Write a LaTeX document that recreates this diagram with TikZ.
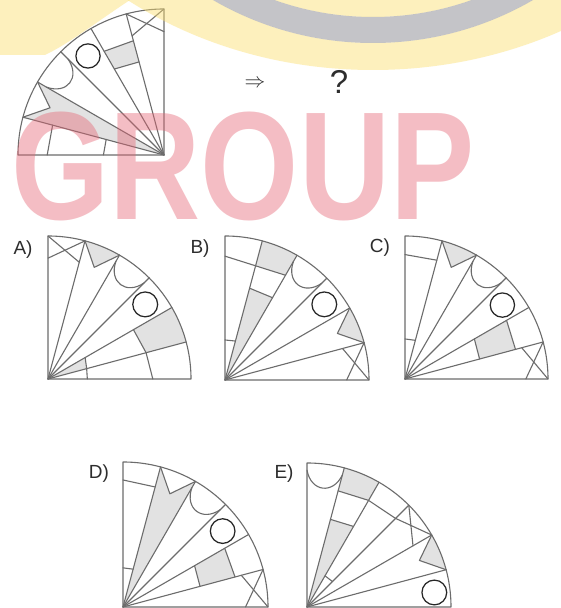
\documentclass[tikz,border=0pt]{standalone}
\usepackage{fontspec}
\setmainfont{Liberation Sans}
\newfontfamily\wmfont{Liberation Sans}
\definecolor{lgray}{RGB}{108,108,108}
\definecolor{shgray}{RGB}{226,226,226}
\definecolor{txt}{RGB}{45,45,45}
\definecolor{pinkwm}{RGB}{229,100,115}
\definecolor{yelwm}{RGB}{251,222,110}
\definecolor{graywm}{RGB}{125,125,135}
\newcommand\AnsFrame{\draw[ln] (0,0) -- (90:1) arc[start angle=90,end angle=0,radius=1] -- cycle;
  \foreach \a in {15,30,45,60,75} \draw[ln] (0,0) -- (\a:1);}
\newcommand\XMark[2]{\draw[ln] (#1:1) -- (#2:0.845); \draw[ln] (#1:0.845) -- (#2:1);}
\newcommand\VArms[2]{\draw[ln] (#1:1) -- ({(#1+#2)/2}:0.845) -- (#2:1);}
\newcommand\VNotchFill[2]{\fill[shgray] (#1:1) -- ({(#1+#2)/2}:0.845) -- (#2:1) arc[start angle=#2,end angle=#1,radius=1] -- cycle;}
\newcommand\VBodyFill[2]{\fill[shgray] (0,0) -- (#1:1) -- ({(#1+#2)/2}:0.845) -- (#2:1) -- cycle;}
\newcommand\CupLine[2]{\draw[ln] (#1:0.95) .. controls ({#1+2}:0.8) and ({#2-2}:0.8) .. (#2:0.95);}
\begin{document}
\begin{tikzpicture}[x=1pt,y=1pt,
  ln/.style={draw=lgray, line width=1.1pt, line join=round, line cap=round},
  ring/.style={draw=black!85, line width=1.25pt},
  lab/.style={font=\fontsize{19}{22}\selectfont, text=txt, inner sep=0pt}]
\useasboundingbox (0,0) rectangle (561,608);
\fill[white] (0,0) rectangle (561,608);

% ---------- question figure ----------
\begin{scope}[shift={(164,453)}, scale=146]
  \fill[shgray] (105:0.66) -- (120:0.68) -- (120:0.82) -- (105:0.81) -- cycle;
  \VBodyFill{150}{165}
  \draw[ln] (0,0) -- (90:1) arc[start angle=90,end angle=180,radius=1] -- cycle;
  \foreach \a in {105,120,135,150,165} \draw[ln] (0,0) -- (\a:1);
  \XMark{105}{90}
  \draw[ln] (105:0.66) -- (120:0.68);
  \draw[ln] (105:0.81) -- (120:0.82);
  \draw[ln] (135:0.93) .. controls (137:0.78) and (148:0.78) .. (150:0.93);
  \VArms{150}{165}
  \draw[ln] (165:0.79) -- (180:0.8);
  \draw[ln] (165:0.41) -- (180:0.415);
  \draw[ring] (127.5:0.855) circle[radius=0.083];
\end{scope}

% ---------- A ----------
\begin{scope}[shift={(48,229)}, scale=143]
  \VNotchFill{60}{75}
  \fill[shgray] (0,0) -- (15:0.28) -- (30:0.3) -- cycle;
  \fill[shgray] (15:0.71) -- (30:0.69) -- (30:1) arc[start angle=30,end angle=15,radius=1] -- cycle;
  \AnsFrame
  \XMark{75}{90}
  \VArms{60}{75}
  \CupLine{45}{60}
  \draw[ln] (0:0.275) -- (15:0.28) -- (30:0.3);
  \draw[ln] (0:0.733) -- (15:0.71) -- (30:0.69);
  \draw[ring] (37.5:0.857) circle[radius=0.087];
\end{scope}

% ---------- B ----------
\begin{scope}[shift={(225,228)}, scale=144]
  \fill[shgray] (0,0) -- (75:0.66) -- (60:0.66) -- cycle;
  \fill[shgray] (75:0.821) -- (60:0.84) -- (60:1) arc[start angle=60,end angle=75,radius=1] -- cycle;
  \VNotchFill{15}{30}
  \AnsFrame
  \draw[ln] (90:0.278) -- (75:0.28);
  \draw[ln] (90:0.86) -- (60:0.84);
  \draw[ln] (75:0.66) -- (60:0.66);
  \CupLine{45}{60}
  \VArms{15}{30}
  \XMark{15}{0}
  \draw[ring] (37.3:0.867) circle[radius=0.086];
\end{scope}

% ---------- C ----------
\begin{scope}[shift={(405,229)}, scale=143]
  \VNotchFill{60}{75}
  \fill[shgray] (15:0.54) -- (30:0.56) -- (30:0.82) -- (15:0.8) -- cycle;
  \AnsFrame
  \draw[ln] (90:0.87) -- (75:0.86);
  \draw[ln] (90:0.28) -- (75:0.28);
  \VArms{60}{75}
  \CupLine{45}{60}
  \draw[ln] (15:0.54) -- (30:0.56);
  \draw[ln] (15:0.8) -- (30:0.82);
  \XMark{15}{0}
  \draw[ring] (37.2:0.855) circle[radius=0.085];
\end{scope}

% ---------- D ----------
\begin{scope}[shift={(123,1)}, scale=145]
  \VBodyFill{60}{75}
  \fill[shgray] (15:0.55) -- (30:0.57) -- (30:0.81) -- (15:0.8) -- cycle;
  \AnsFrame
  \draw[ln] (90:0.876) -- (75:0.857);
  \draw[ln] (90:0.27) -- (75:0.27);
  \VArms{60}{75}
  \CupLine{45}{60}
  \draw[ln] (15:0.55) -- (30:0.57);
  \draw[ln] (15:0.8) -- (30:0.81);
  \XMark{15}{0}
  \draw[ring] (37.3:0.864) circle[radius=0.085];
\end{scope}

% ---------- E ----------
\begin{scope}[shift={(307,1)}, scale=144]
  \fill[shgray] (0,0) -- (75:0.63) -- (60:0.646) -- cycle;
  \fill[shgray] (75:0.835) -- (60:0.855) -- (60:1) arc[start angle=60,end angle=75,radius=1] -- cycle;
  \VNotchFill{15}{30}
  \AnsFrame
  \CupLine{75}{90}
  \draw[ln] (75:0.63) -- (60:0.646);
  \draw[ln] (75:0.835) -- (60:0.855) -- (45:0.87) -- (30:1);
  \draw[ln] (45:1) -- (30:0.85);
  \draw[ln] (60:0.25) -- (45:0.25);
  \VArms{15}{30}
  \draw[ring] (6.5:0.89) circle[radius=0.086];
\end{scope}

% ---------- texts ----------
\node[lab] (la) at (23,358) {A)};
\node[lab] (lb) at (200,359) {B)};
\node[lab] (lc) at (380,360) {C)};
\node[lab] (ld) at (99,134) {D)};
\node[lab] (le) at (284,134) {E)};
\node[inner sep=0pt, text=txt, font=\fontsize{21}{24}\selectfont] (arr) at (255,524) {$\Rightarrow$};
\node[inner sep=0pt, text=txt, font=\fontsize{33}{36}\selectfont] (qm) at (339,526) {?};

% ---------- watermark ----------
\fill[yelwm, opacity=0.45, even odd rule] (373,884) ellipse[x radius=407, y radius=346] (373,884) circle[radius=319] (373,884) circle[radius=293];
\fill[graywm, opacity=0.45, even odd rule] (373,884) circle[radius=319] (373,884) circle[radius=293];
\fill[yelwm, opacity=0.45] (0,608) -- (130,608) .. controls (95,585) and (70,565) .. (45,553) -- (0,553) -- cycle;
\node[text=pinkwm, text opacity=0.42, font=\wmfont\bfseries\fontsize{77}{80}\selectfont, xscale=1.64, yscale=2, inner sep=0pt, anchor=base] (wm) at (243,388) {GROUP};
\end{tikzpicture}
\end{document}
